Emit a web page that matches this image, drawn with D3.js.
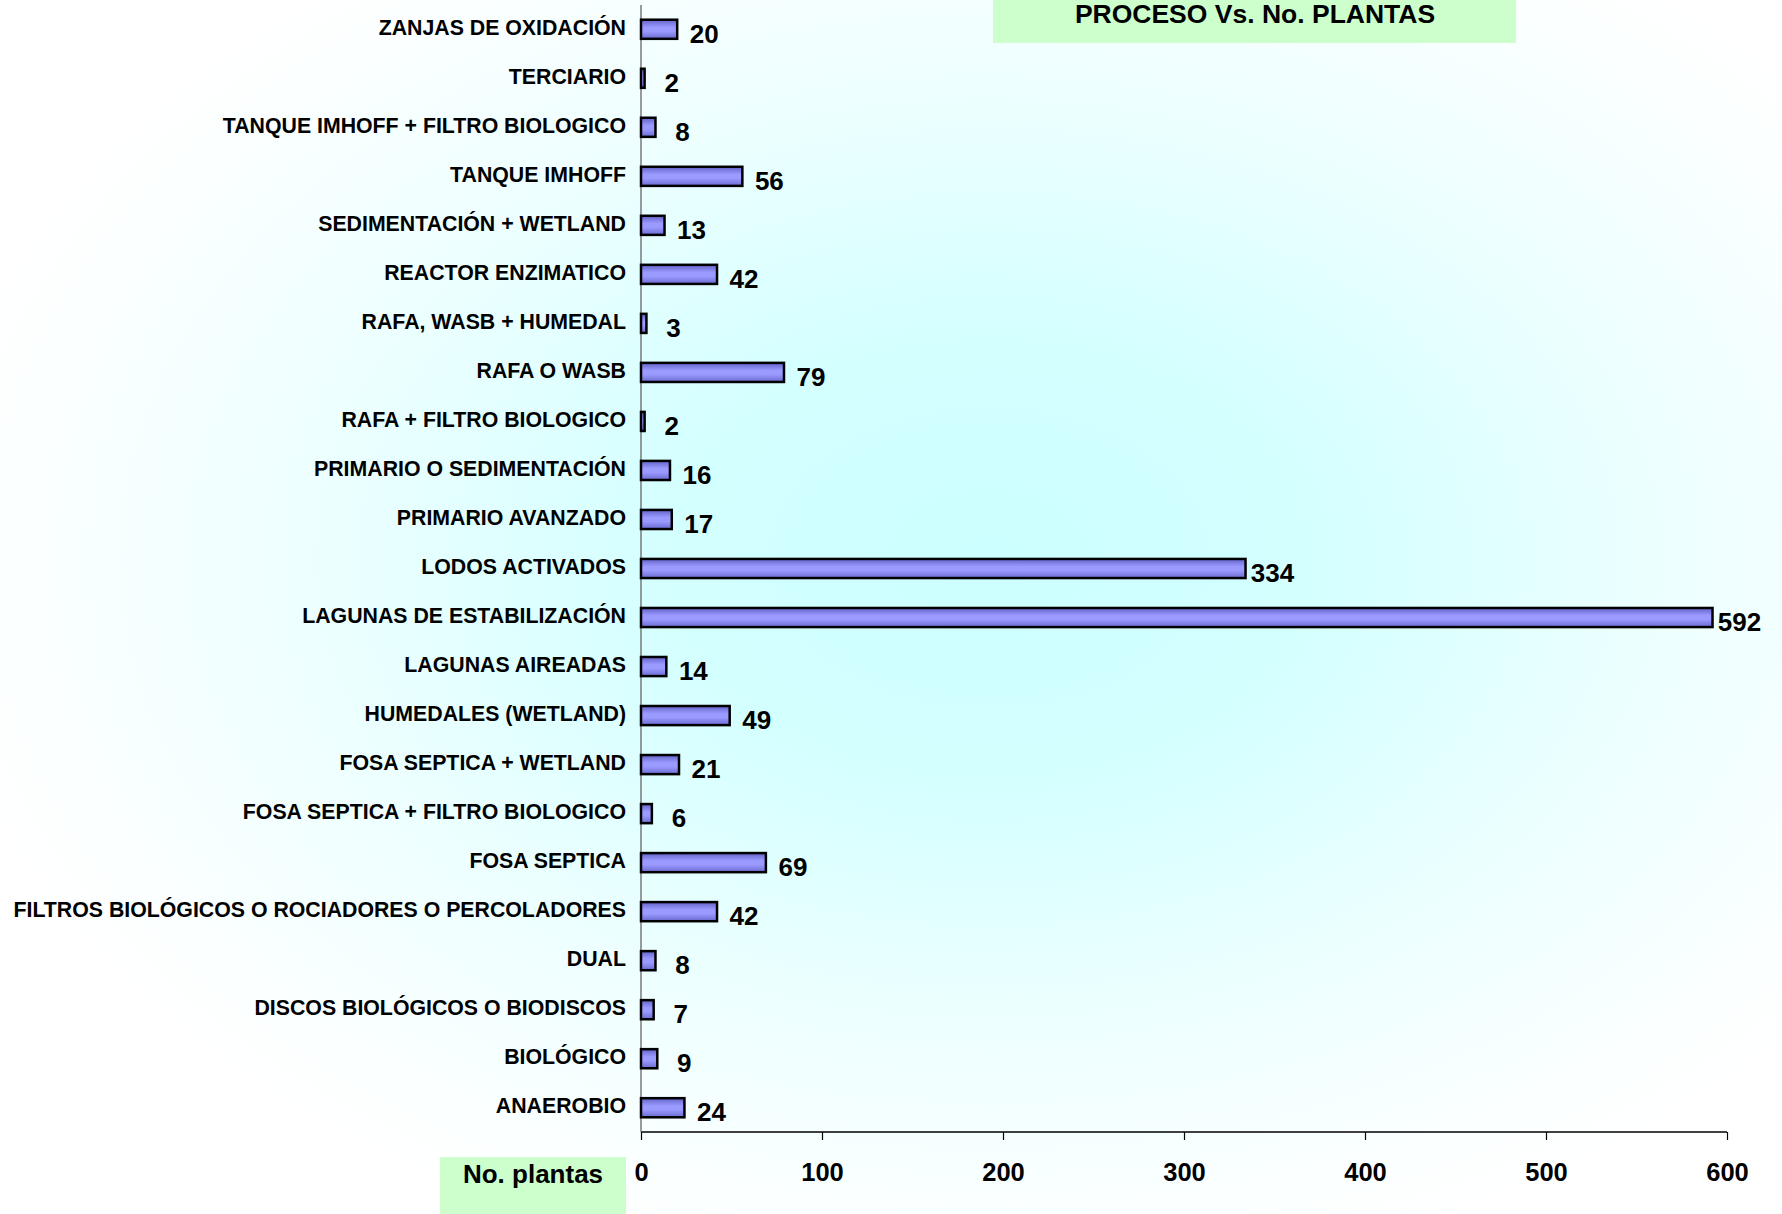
<!DOCTYPE html>
<html>
<head>
<meta charset="utf-8">
<script src="https://cdn.jsdelivr.net/npm/d3@7"></script>
<style>
	body { margin: 0; background: #fff; }
	svg { display: block; font-family: 'Liberation Sans', Arial, sans-serif; font-weight: bold; }
	.cat-label { font-size: 21.3px; fill: #000; }
	.value-label { font-size: 26px; fill: #000; }
	.x-axis text { font-size: 25.5px; font-weight: bold; fill: #000; }
	.title { font-size: 26.5px; }
</style>
</head>
<body>
<svg width="1782" height="1214"></svg>
<script>
const categories = [
	'ZANJAS DE OXIDACIÓN',
	'TERCIARIO',
	'TANQUE IMHOFF + FILTRO BIOLOGICO',
	'TANQUE IMHOFF',
	'SEDIMENTACIÓN + WETLAND',
	'REACTOR ENZIMATICO',
	'RAFA, WASB + HUMEDAL',
	'RAFA O WASB',
	'RAFA + FILTRO BIOLOGICO',
	'PRIMARIO O SEDIMENTACIÓN',
	'PRIMARIO AVANZADO',
	'LODOS ACTIVADOS',
	'LAGUNAS DE ESTABILIZACIÓN',
	'LAGUNAS AIREADAS',
	'HUMEDALES (WETLAND)',
	'FOSA SEPTICA + WETLAND',
	'FOSA SEPTICA + FILTRO BIOLOGICO',
	'FOSA SEPTICA',
	'FILTROS BIOLÓGICOS O ROCIADORES O PERCOLADORES',
	'DUAL',
	'DISCOS BIOLÓGICOS O BIODISCOS',
	'BIOLÓGICO',
	'ANAEROBIO',
];
const plantas = [20, 2, 8, 56, 13, 42, 3, 79, 2, 16, 17, 334, 592, 14, 49, 21, 6, 69, 42, 8, 7, 9, 24];
const xTicks = [0, 100, 200, 300, 400, 500, 600];
const title = 'PROCESO Vs. No. PLANTAS';
const axisTitle = 'No. plantas';

const svg = d3.select('svg');
const width = +svg.attr('width');
const height = +svg.attr('height');

const data = categories.map((c, i) => ({ proceso: c, plantas: plantas[i] }));

const margin = { top: 5, right: 55, bottom: 82, left: 641 };
const innerWidth = width - margin.left - margin.right;
const innerHeight = height - margin.top - margin.bottom;

const defs = svg.append('defs');

// bar shading, darker at the edges
const barGrad = defs.append('linearGradient').attr('id', 'bar-grad').attr('x1', 0).attr('y1', 0).attr('x2', 0).attr('y2', 1);
[
	[0, '#6262c8'],
	[0.4, '#9a9aff'],
	[0.6, '#9a9aff'],
	[1, '#6a6ad0'],
].forEach(([o, c]) => barGrad.append('stop').attr('offset', o).attr('stop-color', c));

// background glow from the centre
const bgGrad = defs
	.append('radialGradient')
	.attr('id', 'bg-grad')
	.attr('cx', 0.555)
	.attr('cy', 0.46)
	.attr('r', 0.6);
[
	[0, '#ccffff'],
	[0.3, '#d4ffff'],
	[0.65, '#eeffff'],
	[0.9, '#fbffff'],
	[1, '#ffffff'],
].forEach(([o, c]) => bgGrad.append('stop').attr('offset', o).attr('stop-color', c));

svg.append('rect').attr('width', width).attr('height', height).attr('fill', 'url(#bg-grad)');

const xScale = d3.scaleLinear().domain([0, 600]).range([0, innerWidth]);
const yScale = d3.scaleBand().domain(categories).range([0, innerHeight]).paddingInner(0.61).paddingOuter(0.3);

const g = svg.append('g').attr('transform', `translate(${margin.left},${margin.top})`);

// x axis
const xAxis = d3.axisBottom(xScale).tickValues(xTicks).tickSize(8).tickPadding(23).tickFormat(d3.format('d'));
const xAxisG = g.append('g').attr('class', 'x-axis').attr('transform', `translate(0,${innerHeight})`).call(xAxis);
xAxisG.select('.domain').attr('stroke', '#000').attr('stroke-width', 1.4).attr('d', `M0,0H${innerWidth}`);
xAxisG.selectAll('.tick line').attr('stroke', '#000').attr('stroke-width', 1.2);

// y axis line
g.append('line').attr('x1', 0).attr('x2', 0).attr('y1', 0).attr('y2', innerHeight).attr('stroke', '#666').attr('stroke-width', 1.3);

// category labels
g.selectAll('.cat-label')
	.data(data)
	.enter()
	.append('text')
	.attr('class', 'cat-label')
	.attr('x', -15)
	.attr('y', d => yScale(d.proceso) + yScale.bandwidth() / 2)
	.attr('dy', '0.27em')
	.attr('text-anchor', 'end')
	.text(d => d.proceso);

// bars
g.selectAll('.bar')
	.data(data)
	.enter()
	.append('rect')
	.attr('class', 'bar')
	.attr('x', xScale(0))
	.attr('y', d => yScale(d.proceso))
	.attr('width', d => xScale(d.plantas) - xScale(0))
	.attr('height', yScale.bandwidth())
	.attr('fill', 'url(#bar-grad)')
	.attr('stroke', '#000')
	.attr('stroke-width', 2.5);

// value labels
g.selectAll('.value-label')
	.data(data)
	.enter()
	.append('text')
	.attr('class', 'value-label')
	.attr('x', d => xScale(d.plantas) + 27)
	.attr('y', d => yScale(d.proceso) + yScale.bandwidth() / 2 + 4)
	.attr('dy', '0.36em')
	.attr('text-anchor', 'middle')
	.text(d => d.plantas);

// title box
svg.append('rect').attr('x', 993).attr('y', 0).attr('width', 523).attr('height', 43).attr('fill', '#ccffcc');
svg.append('text').attr('class', 'title').attr('x', 1255).attr('y', 23).attr('text-anchor', 'middle').text(title);

// axis title box
svg.append('rect').attr('x', 440).attr('y', 1157).attr('width', 186).attr('height', 57).attr('fill', '#ccffcc');
svg.append('text').attr('class', 'title').attr('x', 533).attr('y', 1183).attr('text-anchor', 'middle').style('font-size', '26px').text(axisTitle);
</script>
</body>
</html>
